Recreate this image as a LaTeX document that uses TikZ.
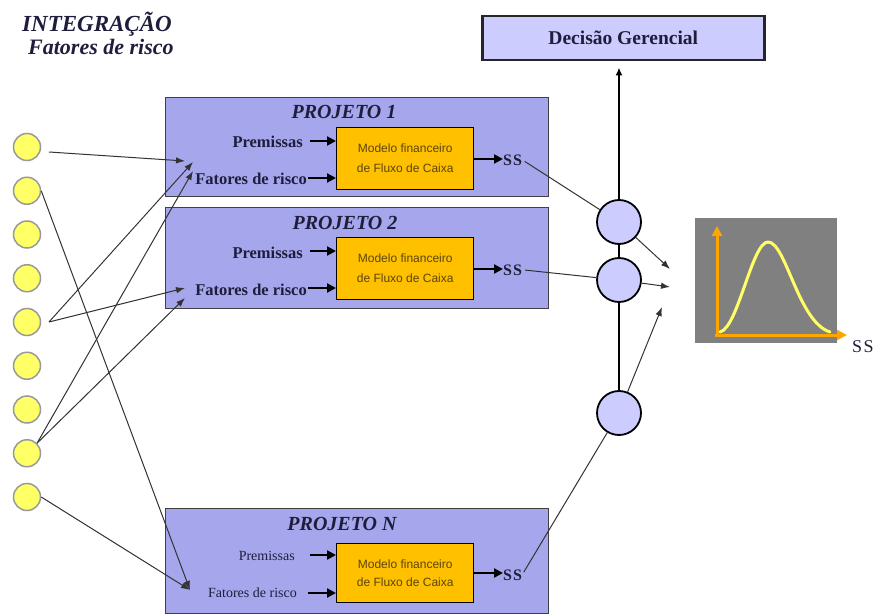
\documentclass[tikz,border=0pt]{standalone}
\usepackage{fontspec}
\setmainfont{Liberation Serif}
\newfontfamily\arialf{Liberation Sans}
\usetikzlibrary{arrows.meta}
\definecolor{projc}{RGB}{166,166,236}
\definecolor{lightc}{RGB}{204,204,255}
\definecolor{modelc}{RGB}{255,192,0}
\definecolor{yelc}{RGB}{255,255,102}
\definecolor{chartc}{RGB}{128,128,128}
\definecolor{axisc}{RGB}{255,165,0}
\definecolor{txtc}{RGB}{30,30,60}
\definecolor{mtxt}{RGB}{90,70,10}
\begin{document}
\begin{tikzpicture}[x=1pt,y=-1pt,
  projbox/.style={draw=black!75, fill=projc, line width=1.2pt, inner sep=0, anchor=north west},
  modelbox/.style={draw=black, fill=modelc, line width=1.4pt, inner sep=0, anchor=north west,
    minimum width=137pt, minimum height=62pt, align=center, text=mtxt,
    font=\arialf\fontsize{12}{20}\selectfont},
  ttl/.style={inner sep=0, anchor=base, text=txtc, font=\bfseries\itshape\fontsize{20}{20}\selectfont},
  lbl/.style={inner sep=0, anchor=base east, text=txtc, font=\bfseries\fontsize{16.5}{16.5}\selectfont},
  lbln/.style={inner sep=0, anchor=base east, text=txtc, font=\fontsize{14}{14}\selectfont},
  sslbl/.style={inner sep=0, anchor=base west, text=txtc, font=\bfseries\fontsize{16}{16}\selectfont},
  thick arrow/.style={line width=2.2pt, -{Triangle[length=9pt,width=9pt]}},
  conn/.style={draw=black!80, line width=1pt},
  conna/.style={conn, -{Latex[length=9pt,width=6.5pt]}},
  fator/.style={circle, draw=black!40, fill=yelc, line width=1.5pt, minimum size=27pt, inner sep=0},
  agg/.style={circle, draw=black, fill=lightc, line width=1.8pt, minimum size=44pt, inner sep=0},
]
\useasboundingbox (0,0) rectangle (881,615);

% title
\node[inner sep=0, anchor=base west, text=txtc, font=\bfseries\itshape\fontsize{23}{23}\selectfont] (tint) at (22,32) {INTEGRAÇÃO};
\node[inner sep=0, anchor=base west, text=txtc, font=\bfseries\itshape\fontsize{22}{22}\selectfont] (tfat) at (28,55) {Fatores de risco};

% decision box
\node[draw=black!85, fill=lightc, line width=2.5pt, inner sep=0, anchor=north west,
  minimum width=282pt, minimum height=44pt, text=txtc,
  font=\bfseries\fontsize{19.5}{19.5}\selectfont] (dec) at (481,15) {Decisão Gerencial};

% yellow risk factor circles
\foreach \i in {1,...,9} {
  \node[fator] (y\i) at (27,{147+43.75*(\i-1)}) {};
}

% project boxes
\node[projbox, minimum width=383pt, minimum height=99pt] (p1) at (165,97) {};
\node[projbox, minimum width=383pt, minimum height=101pt] (p2) at (165,207) {};
\node[projbox, minimum width=383pt, minimum height=105pt] (pn) at (165,508) {};

% project 1
\node[ttl] (t1) at (344,119) {PROJETO 1};
\node[modelbox] (m1) at (336,127) {Modelo financeiro\\de Fluxo de Caixa};
\node[lbl] (pr1) at (303,148) {Premissas};
\node[lbl] (fr1) at (307,185) {Fatores de risco};
\node[sslbl] (ss1) at (503,165) {S\kern1ptS};
\coordinate (pa1) at (310,141);
\coordinate (fa1) at (308,178);
\draw[thick arrow] (pa1) -- (pa1 -| m1.west);
\draw[thick arrow] (fa1) -- (fa1 -| m1.west);
\draw[thick arrow] (m1.east |- 0,159) -- (ss1.west |- 0,159);

% project 2
\node[ttl] (t2) at (345,229) {PROJETO 2};
\node[modelbox] (m2) at (336,237) {Modelo financeiro\\de Fluxo de Caixa};
\node[lbl] (pr2) at (303,258) {Premissas};
\node[lbl] (fr2) at (307,295) {Fatores de risco};
\node[sslbl] (ss2) at (503,275) {S\kern1ptS};
\coordinate (pa2) at (310,251);
\coordinate (fa2) at (308,288);
\draw[thick arrow] (pa2) -- (pa2 -| m2.west);
\draw[thick arrow] (fa2) -- (fa2 -| m2.west);
\draw[thick arrow] (m2.east |- 0,269) -- (ss2.west |- 0,269);

% project N
\node[ttl] (tn) at (342,530) {PROJETO N};
\node[modelbox, minimum height=59pt, font=\arialf\fontsize{12}{18}\selectfont] (mn) at (336,543) {Modelo financeiro\\de Fluxo de Caixa};
\node[lbln] (prn) at (295,560) {Premissas};
\node[lbln] (frn) at (297,597) {Fatores de risco};
\node[sslbl] (ssn) at (503,580) {S\kern1ptS};
\coordinate (pan) at (310,555);
\coordinate (fan) at (308,593);
\draw[thick arrow] (pan) -- (pan -| mn.west);
\draw[thick arrow] (fan) -- (fan -| mn.west);
\draw[thick arrow] (mn.east |- 0,573) -- (ssn.west |- 0,573);

% targets of risk factors
\coordinate (s1) at (49,152);
\coordinate (s5) at (49,322);
\coordinate (t1a) at (185,161);
\coordinate (t1b) at (193,162);
\coordinate (t1c) at (193,171);
\coordinate (t2a) at (185,288);
\coordinate (t2b) at (185,298);
\coordinate (tna) at (190,590);
\draw[conna] (s1) -- (t1a);
\draw[conna] (s5) -- (t1b);
\draw[conna] (s5) -- (t2a);
\draw[conna] (y8.north east) -- (t1c);
\draw[conna] (y8.north east) -- (t2b);
\draw[conna] (y2.east) -- (tna);
\draw[conna] (y9.east) -- (tna);

% aggregation circles
\node[agg] (c1) at (619,222) {};
\node[agg] (c2) at (619,280) {};
\node[agg] (c3) at (619,413) {};
\draw[line width=2pt] (c3.north) -- (c2.south);
\draw[line width=2pt] (c2.north) -- (c1.south);
\draw[line width=2pt, -{Latex[length=8pt,width=7pt]}, shorten >=6pt] (c1.north) -- (c1.north |- dec.south);

\draw[conn, shorten <=3pt] (ss1.east) -- (c1);
\draw[conn, shorten <=3pt] (ss2.east) -- (c2);
\draw[conn, shorten <=3pt] (ssn.east) -- (c3);

% chart
\node[fill=chartc, inner sep=0, anchor=north west, minimum width=142pt, minimum height=125pt] (chart) at (695,218) {};
\coordinate (a1) at (670,269);
\coordinate (a2) at (670,287);
\coordinate (a3) at (662,307);
\draw[conna] (c1) -- (a1);
\draw[conna] (c2) -- (a2);
\draw[conna] (c3) -- (a3);

\draw[axisc, line width=3pt, -{Triangle[length=10pt,width=10pt]}] (717,337) -- (717,226);
\draw[axisc, line width=3pt, -{Triangle[length=10pt,width=10pt]}] (715,335) -- (847,335);
\draw[yelc, line width=3pt, line cap=round] (720,332) .. controls (738,328) and (752,242) .. (768,242) .. controls (786,242) and (798,322) .. (830,332);
\node[inner sep=0, anchor=base west, text=txtc, font=\fontsize{18}{18}\selectfont] (ssc) at (852,352) {S\kern1.5ptS};
\end{tikzpicture}
\end{document}
